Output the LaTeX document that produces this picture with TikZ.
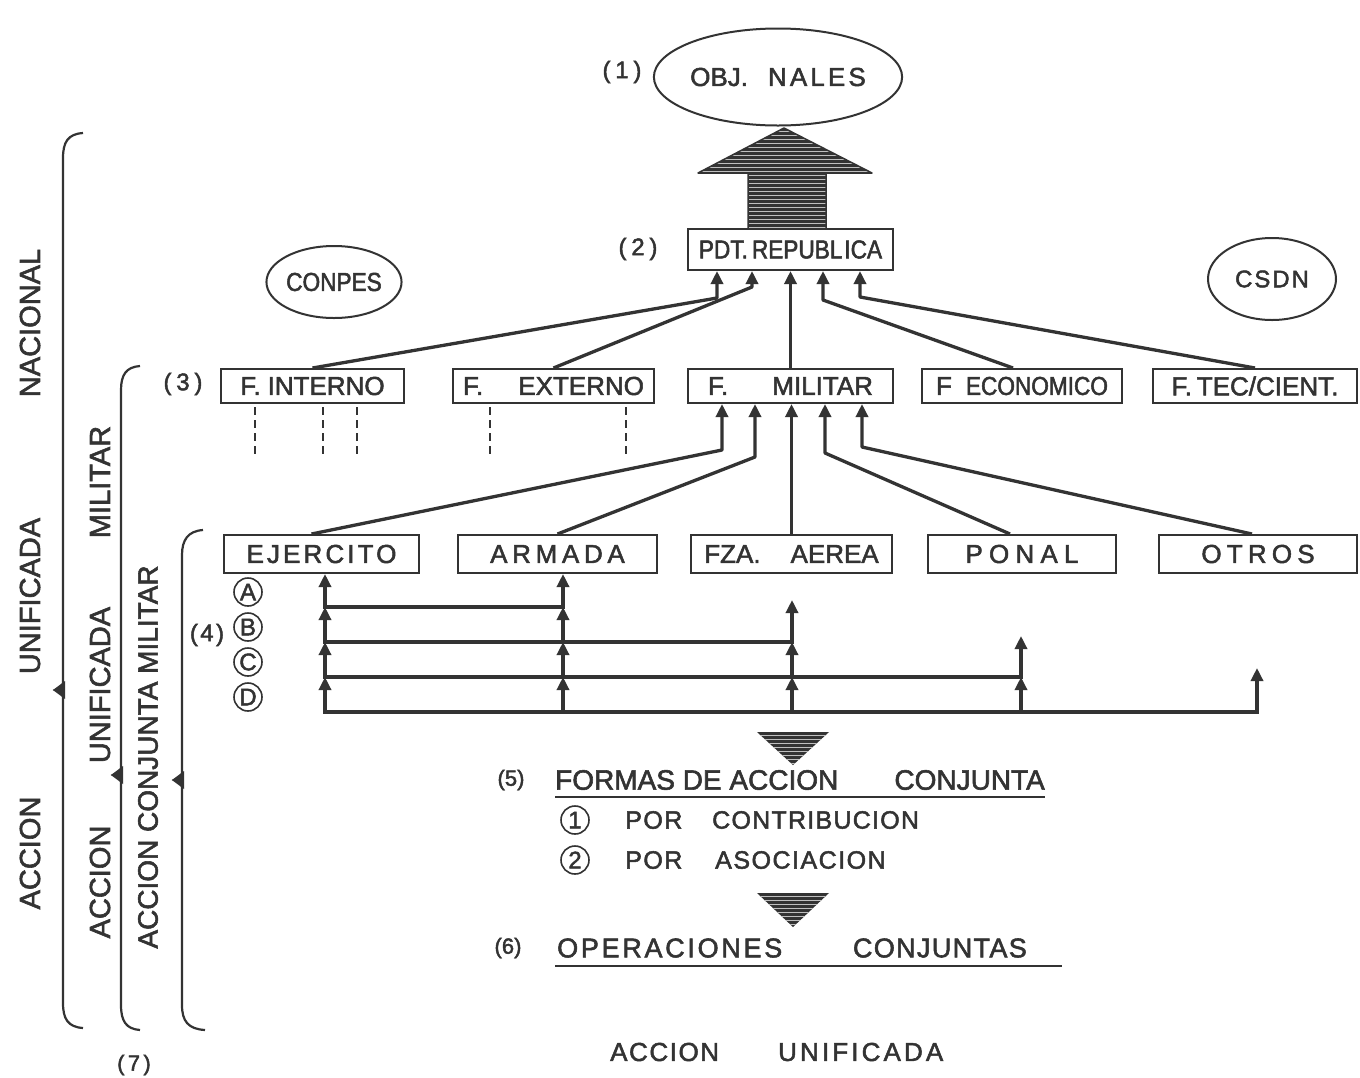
\documentclass[tikz,border=0pt]{standalone}
\usepackage{fontspec}
\setmainfont{Liberation Sans}[FakeBold=2]
\newfontfamily\condf{Liberation Sans}[FakeStretch=0.87,FakeBold=2]
\usetikzlibrary{arrows.meta,calc,shapes.geometric}
\definecolor{ink}{gray}{0.2}
\newcommand\ls[2]{{\addfontfeature{LetterSpace=#1}#2}}
\newcommand\fs[1]{\fontsize{#1}{#1}\selectfont}
\tikzset{
  box/.style={draw=ink, line width=2pt, rectangle, inner sep=0pt, text=ink, font=\fs{26}},
  conn/.style={draw=ink, line width=3.3pt, line join=round, -{Triangle[length=13pt,width=12pt]}},
  mline/.style={draw=ink, line width=3.4pt, line cap=rect},
  marr/.style={draw=ink, line width=3.4pt, -{Triangle[length=13pt,width=12pt]}},
  lbl/.style={text=ink, inner sep=0pt, font=\fs{25}},
  oval/.style={draw=ink, line width=2pt, ellipse, inner sep=0pt, text=ink},
  brace/.style={draw=ink, line width=2.2pt},
  dline/.style={draw=ink, line width=2pt, dash pattern=on 8pt off 5pt},
  circ/.style={draw=ink, circle, line width=1.6pt, minimum size=28pt, inner sep=0pt, text=ink, font=\fs{24}},
  side/.style={rotate=90, text=ink, inner sep=0pt, font=\fs{29}},
  uline/.style={draw=ink, line width=2pt},
}
\begin{document}
\begin{tikzpicture}[x=1pt,y=-1pt]
\useasboundingbox (0,0) rectangle (1360,1077);
\fill[white] (0,0) rectangle (1360,1077);

% ---------- top ----------
\node[lbl, font=\fs{24}] (n1) at (622,72) {\ls{20}{(1)}};
\node[oval, minimum width=196pt, minimum height=97pt, font=\fs{26}] (obj) at (778,77) {OBJ.\hspace{20pt}\ls{12}{NALES}};

\begin{scope}
  \clip (748,229) -- (748,173) -- (698,173) -- (784,128) -- (872,173) -- (826,173) -- (826,229) -- cycle;
  \fill[ink] (690,120) rectangle (880,232);
  \foreach \yy in {131,135,...,229} \draw[white!75!black, line width=0.9pt] (690,\yy) -- (880,\yy);
\end{scope}
\draw[ink, line width=1.5pt, line join=round] (748,229) -- (748,173) -- (698,173) -- (784,128) -- (872,173) -- (826,173) -- (826,229);

\node[lbl, font=\fs{24}] (n2) at (638,249) {\ls{20}{(2)}};
\node[box, minimum width=205pt, minimum height=41pt, font=\condf\fs{26}] (pdt) at (790.5,249.5) {PDT.\hspace{4pt}REPUBL\hspace{2pt}ICA};

\node[oval, minimum width=125pt, minimum height=72pt, font=\condf\fs{26}] (conpes) at (334,282) {CONPES};
\node[oval, minimum width=128pt, minimum height=82pt, font=\fs{24}] (csdn) at (1272,279) {\ls{8}{CSDN}};

% ---------- F row ----------
\node[lbl, font=\fs{24}] (n3) at (183,384) {\ls{20}{(3)}};
\node[box, minimum width=183pt, minimum height=34pt] (fint) at (312.5,386) {F.\hspace{7pt}INTERNO};
\node[box, minimum width=201pt, minimum height=34pt] (fext) at (553.5,386) {F.\hspace{35pt}EXTERNO};
\node[box, minimum width=205pt, minimum height=34pt] (fmil) at (790.5,386) {F.\hspace{44pt}MILITAR};
\node[box, minimum width=200pt, minimum height=34pt] (feco) at (1022,386) {F\hspace{14pt}{\condf ECONOMICO}};
\node[box, minimum width=204pt, minimum height=34pt] (ftec) at (1255,386) {F.\hspace{5pt}TEC/CIENT.};

\coordinate (p1) at (717,298);
\coordinate (p2) at (752,287);
\coordinate (p4) at (823,300);
\coordinate (p5) at (860,297);
\draw[conn] (fint.north) -- (p1) -- (p1 |- pdt.south);
\draw[conn] (fext.north) -- (p2) -- (p2 |- pdt.south);
\draw[conn] (fmil.north) -- (fmil.north |- pdt.south);
\draw[conn] ([xshift=-9pt]feco.north) -- (p4) -- (p4 |- pdt.south);
\draw[conn] (ftec.north) -- (p5) -- (p5 |- pdt.south);

\draw[dline] ([xshift=-57.5pt,yshift=-3pt]fint.south) -- ++(0,50);
\draw[dline] ([xshift=10.5pt,yshift=-3pt]fint.south) -- ++(0,50);
\draw[dline] ([xshift=44.5pt,yshift=-3pt]fint.south) -- ++(0,50);
\draw[dline] ([xshift=-63.5pt,yshift=-3pt]fext.south) -- ++(0,50);
\draw[dline] ([xshift=72.5pt,yshift=-3pt]fext.south) -- ++(0,50);

% ---------- services row ----------
\node[box, minimum width=195pt, minimum height=38pt] (ejer) at (321.5,554) {\ls{12}{EJERCITO}};
\node[box, minimum width=199pt, minimum height=38pt] (arm) at (557.5,554) {\ls{18}{ARMADA}};
\node[box, minimum width=201pt, minimum height=38pt] (fza) at (791.5,554) {FZA.\hspace{30pt}AEREA};
\node[box, minimum width=188pt, minimum height=38pt] (ponal) at (1022,554) {\ls{24}{PONAL}};
\node[box, minimum width=198pt, minimum height=38pt] (otros) at (1258,554) {\ls{20}{OTROS}};

\coordinate (q1) at (722,450);
\coordinate (q2) at (755,457);
\coordinate (q4) at (825,453);
\coordinate (q5) at (862,447);
\draw[conn] ([xshift=-10pt]ejer.north) -- (q1) -- (q1 |- fmil.south);
\draw[conn] (arm.north) -- (q2) -- (q2 |- fmil.south);
\draw[conn] (fza.north) -- (fza.north |- fmil.south);
\draw[conn] ([xshift=-12pt]ponal.north) -- (q4) -- (q4 |- fmil.south);
\draw[conn] ([xshift=-6pt]otros.north) -- (q5) -- (q5 |- fmil.south);

% ---------- combinations A-D ----------
\node[lbl, font=\fs{24}] (n4) at (207,635) {\ls{10}{(4)}};
\node[circ] (cA) at (248,592) {A};
\node[circ] (cB) at (248,627) {B};
\node[circ] (cC) at (248,662) {C};
\node[circ] (cD) at (248,697) {D};

\coordinate (ev) at ([xshift=3.5pt]ejer.south);
\coordinate (av) at ([xshift=5.5pt]arm.south);
\coordinate (fv) at ([xshift=0.5pt]fza.south);
\coordinate (pv) at ([xshift=-1pt]ponal.south);
\coordinate (ov) at ([xshift=-1pt]otros.south);
\coordinate (LA) at (0,607);
\coordinate (LB) at (0,642);
\coordinate (LC) at (0,677);
\coordinate (LD) at (0,712);
\coordinate (Lf) at (0,600);
\coordinate (Lp) at (0,636);
\coordinate (Lo) at (0,668);

\draw[mline] (ev |- LA) -- (av |- LA);
\draw[mline] (ev |- LB) -- (fv |- LB);
\draw[mline] (ev |- LC) -- (pv |- LC);
\draw[mline] (ev |- LD) -- (ov |- LD);
\foreach \v in {ev,av} {
  \draw[marr] (\v |- LD) -- (\v |- LC);
  \draw[marr] (\v |- LC) -- (\v |- LB);
  \draw[marr] (\v |- LB) -- (\v |- LA);
  \draw[marr] (\v |- LA) -- (\v);
}
\draw[marr] (fv |- LD) -- (fv |- LC);
\draw[marr] (fv |- LC) -- (fv |- LB);
\draw[marr] (fv |- LB) -- (fv |- Lf);
\draw[marr] (pv |- LD) -- (pv |- LC);
\draw[marr] (pv |- LC) -- (pv |- Lp);
\draw[marr] (ov |- LD) -- (ov |- Lo);

% ---------- triangles and lower texts ----------
\begin{scope}
  \clip (757,732) -- (829,732) -- (793,765) -- cycle;
  \fill[ink] (750,728) rectangle (835,768);
  \foreach \yy in {735,739,...,763} \draw[white!75!black, line width=0.9pt] (750,\yy) -- (835,\yy);
\end{scope}
\begin{scope}
  \clip (757,893) -- (829,893) -- (793,927) -- cycle;
  \fill[ink] (750,889) rectangle (835,930);
  \foreach \yy in {896,900,...,924} \draw[white!75!black, line width=0.9pt] (750,\yy) -- (835,\yy);
\end{scope}

\node[lbl, font=\fs{22}] (n5) at (511,780) {(5)};
\node[lbl, font=\fs{28}, anchor=west] (f5a) at (555,780) {FORMAS DE ACCION};
\node[lbl, font=\fs{28}, anchor=east] (f5b) at (1045,780) {CONJUNTA};
\draw[uline] (555,797) -- (1045,797);

\node[circ] (c1) at (575,820) {1};
\node[lbl, anchor=west] (por1) at (625,820) {\ls{6}{POR}};
\node[lbl, anchor=west] (contr) at (712,820) {\ls{5}{CONTRIBUCION}};
\node[circ] (c2) at (575,860) {2};
\node[lbl, anchor=west] (por2) at (625,860) {\ls{6}{POR}};
\node[lbl, anchor=west] (asoc) at (715,860) {\ls{6}{ASOCIACION}};

\node[lbl, font=\fs{22}] (n6) at (508,948) {(6)};
\node[lbl, font=\fs{27}, anchor=west] (op) at (557,948) {\ls{10}{OPERACIONES}};
\node[lbl, font=\fs{27}, anchor=east] (cj) at (1027,948) {\ls{5}{CONJUNTAS}};
\draw[uline] (555,966) -- (1062,966);

\node[lbl, font=\fs{26}, anchor=west] (au1) at (610,1052) {\ls{6}{ACCION}};
\node[lbl, font=\fs{26}, anchor=west] (au2) at (778,1052) {\ls{12}{UNIFICADA}};
\node[lbl, font=\fs{22}] (n7) at (134,1065) {\ls{15}{(7)}};

% ---------- left labels ----------
\node[side] (s1a) at (30,323) {NACIONAL};
\node[side] (s1b) at (30,596) {UNIFICADA};
\node[side] (s1c) at (30,853) {ACCION};
\node[side] (s2a) at (100,482) {MILITAR};
\node[side] (s2b) at (100,685) {UNIFICADA};
\node[side] (s2c) at (100,882) {ACCION};
\node[side, font=\fs{28}] (s3) at (148,757) {ACCION CONJUNTA MILITAR};

% ---------- braces ----------
\draw[brace] (83,133) .. controls (68,134) and (63,142) .. (63,158) -- (63,680) .. controls (63,686) .. (55,690) .. controls (63,694) .. (63,700) -- (63,1003) .. controls (63,1019) and (68,1027) .. (83,1028);
\fill[ink] (53,690) -- (65,681) -- (65,699) -- cycle;
\draw[brace] (140,366) .. controls (126,367) and (121,375) .. (121,390) -- (121,765) .. controls (121,771) .. (113,775) .. controls (121,779) .. (121,785) -- (121,1005) .. controls (121,1021) and (126,1029) .. (140,1030);
\fill[ink] (111,775) -- (123,766) -- (123,784) -- cycle;
\draw[brace] (203,530) .. controls (188,531) and (182,540) .. (182,555) -- (182,770) .. controls (182,776) .. (174,780) .. controls (182,784) .. (182,790) -- (182,1005) .. controls (182,1021) and (188,1029) .. (205,1030);
\fill[ink] (172,780) -- (184,771) -- (184,789) -- cycle;
\end{tikzpicture}
\end{document}
